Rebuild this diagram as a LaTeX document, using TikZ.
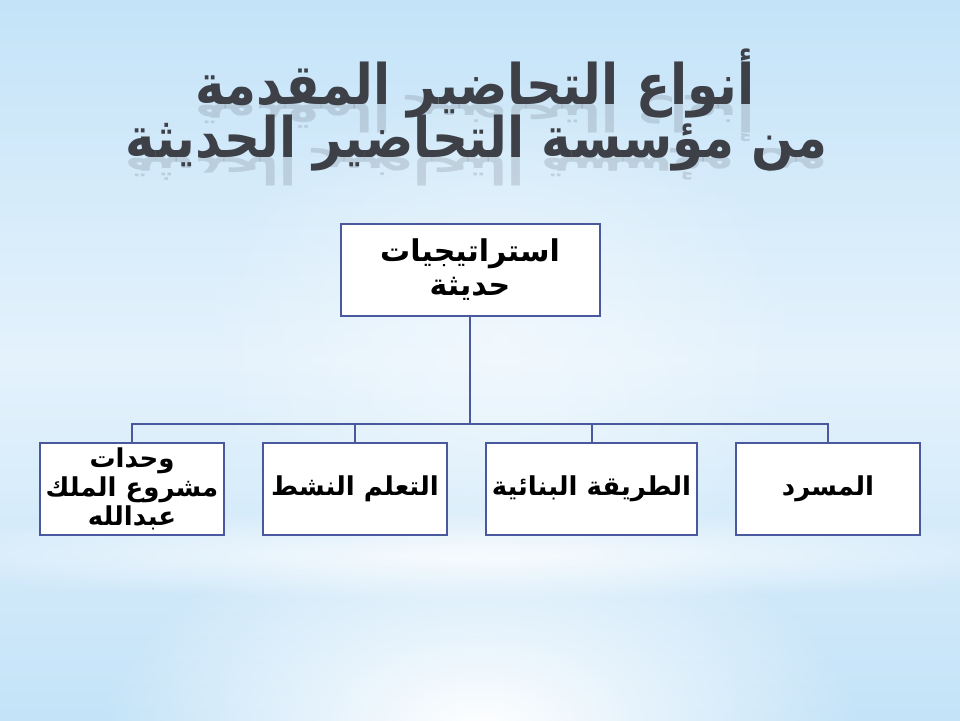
\documentclass[tikz,border=0pt]{standalone}
\usepackage{fontspec}
\usepackage{graphicx}
\usetikzlibrary{positioning,fadings}
\newfontfamily\arabicfont[Script=Arabic]{DejaVu Sans}
\TeXXeTstate=1
\newcommand{\ar}[1]{{\arabicfont\bfseries\beginR #1\endR}}
\definecolor{bgblue}{RGB}{196,227,248}
\definecolor{bgpale}{RGB}{228,242,252}
\definecolor{boxline}{RGB}{74,88,158}
\definecolor{titlegray}{RGB}{62,64,72}
\tikzfading[name=glow, inner color=transparent!0, outer color=transparent!100]

\begin{document}
\begin{tikzpicture}[x=1pt,y=-1pt]
\tikzstyle{box}=[draw=boxline, line width=2pt, fill=white, minimum width=184pt, minimum height=92pt, align=center, inner sep=2pt, outer sep=0pt, font=\fontsize{26}{29}\selectfont]
\tikzstyle{titletext}=[text=titlegray, font=\fontsize{50}{55}\selectfont, inner sep=0pt]
\tikzstyle{reflect}=[text=titlegray, text opacity=0.16, font=\fontsize{50}{55}\selectfont, inner sep=0pt]
\useasboundingbox (0,0) rectangle (960,720);
% background
\shade[top color=bgblue, bottom color=bgpale] (0,0) rectangle (960,360);
\shade[top color=bgpale, bottom color=bgblue] (0,360) rectangle (960,720);
\fill[white, path fading=glow, opacity=0.8] (480,555) ellipse (620pt and 45pt);
\fill[white, path fading=glow] (480,730) ellipse (380pt and 210pt);
\fill[white, path fading=glow, opacity=0.5] (500,340) ellipse (300pt and 260pt);

% title
\node[titletext, anchor=base] (title1) at (475,104) {\scalebox{1}[1.12]{\ar{أنواع التحاضير المقدمة}}};
\node[reflect, anchor=base] (title1r) at (title1.base) {\scalebox{1}[-0.75]{\ar{أنواع التحاضير المقدمة}}};
\node[titletext, anchor=base] (title2) at (477,157) {\scalebox{1}[1.12]{\ar{من مؤسسة التحاضير الحديثة}}};
\node[reflect, anchor=base] (title2r) at (title2.base) {\scalebox{1}[-0.75]{\ar{من مؤسسة التحاضير الحديثة}}};

% chart
\draw node [box, minimum width=259pt, font=\fontsize{30}{34}\selectfont] at (470,270) (strat) {\ar{استراتيجيات}\\\ar{حديثة}};
\draw node [box] at (828,489) (masrad) {\ar{المسرد}};
\draw node [box, minimum width=211pt, left=39pt of masrad] (binaia) {\ar{الطريقة البنائية}};
\draw node [box, left=39pt of binaia] (nashet) {\ar{التعلم النشط}};
\draw node [box, left=39pt of nashet] (wahdat) {\ar{وحدات}\\\ar{مشروع الملك}\\\ar{عبدالله}};
\coordinate (bus) at (470,424);

\draw [boxline, line width=2pt] (strat) -- (bus);
\draw [boxline, line width=2pt] (wahdat) |- (bus);
\draw [boxline, line width=2pt] (nashet) |- (bus);
\draw [boxline, line width=2pt] (binaia) |- (bus);
\draw [boxline, line width=2pt] (masrad) |- (bus);
\end{tikzpicture}
\end{document}
